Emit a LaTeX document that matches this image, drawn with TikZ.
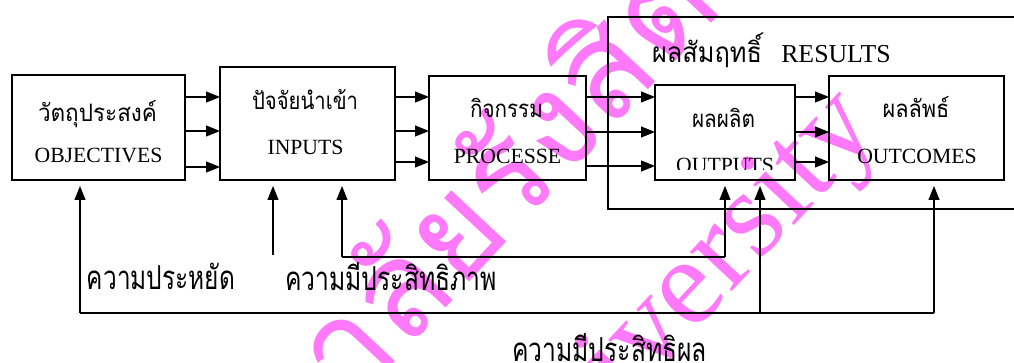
\documentclass[tikz,border=0pt]{standalone}
\usepackage{fontspec}
\setmainfont{Liberation Serif}
\newfontfamily\thai[Script=Thai]{Loma}
\usetikzlibrary{arrows.meta}
\definecolor{wm}{RGB}{255,122,250}
\newcommand{\thw}[3]{\resizebox{#1}{\height}{\fontsize{#2}{#2}\selectfont\thai #3}}
\newcommand{\lat}[1]{\fontsize{#1}{#1}\selectfont}
\begin{document}
\begin{tikzpicture}[x=1pt,y=-1pt,
  box/.style={draw, line width=1.1pt, inner sep=0pt, outer sep=0pt},
  arr/.style={line width=1.1pt, -{Triangle[length=14pt,width=11pt]}},
  ln/.style={line width=1.1pt},
  lbl/.style={anchor=base, inner sep=0pt, outer sep=0pt},
  wmark/.style={text=wm, inner sep=0pt}]
\useasboundingbox (0,0) rectangle (1014,363);
\clip (0,0) rectangle (1014,363);
\fill[white] (0,0) rectangle (1014,363);

% watermark
\node[wmark, anchor=base east, rotate=47] (wmth) at (725,8)
  {\fontsize{135}{135}\selectfont\thai มหาวิทยาลัยรังสิต};
\node[wmark, anchor=base west, rotate=47] (wmen) at (522,517)
  {\fontsize{125}{125}\selectfont University};

% boxes
\node[box, minimum width=422pt, minimum height=192pt] (res) at (819,113) {};
\node[box, minimum width=173pt, minimum height=105pt] (obj) at (98.5,127.5) {};
\node[box, minimum width=175pt, minimum height=113pt] (inp) at (307.5,123.5) {};
\node[box, minimum width=157pt, minimum height=104pt] (proc) at (507.5,128) {};
\node[box, minimum width=140pt, minimum height=95pt] (outp) at (725,132.5) {};
\node[box, minimum width=175pt, minimum height=104pt] (outc) at (916.5,128) {};

% box texts
\node[lbl] (objth) at (97.5,122) {\thw{119pt}{24}{วัตถุประสงค์}};
\node[lbl] (objen) at (98.5,163) {\lat{21.7}OBJECTIVES};
\node[lbl] (inpth) at (305,110) {\thw{106pt}{24}{ปัจจัยนำเข้า}};
\node[lbl] (inpen) at (305.5,155) {\lat{21.7}INPUTS};
\node[lbl] (procth) at (506.5,118) {\thw{73pt}{24}{กิจกรรม}};
\node[lbl] (procen) at (507.5,164) {\lat{21.7}PROCESSE};
\node[lbl] (outpth) at (723.5,128) {\thw{63pt}{24}{ผลผลิต}};
\begin{scope}
  \clip (655,85) rectangle (795,170);
  \node[lbl] (outpen) at (725,173) {\lat{21.7}OUTPUTS};
\end{scope}
\node[lbl] (outcth) at (916,118) {\thw{67pt}{24}{ผลลัพธ์}};
\node[lbl] (outcen) at (917,164) {\lat{21.7}OUTCOMES};
\node[lbl] (resth) at (707,63) {\thw{110pt}{28}{ผลสัมฤทธิ์}};
\node[lbl] (resen) at (836,63) {\lat{25.8}RESULTS};

% horizontal arrows
\foreach \y in {97,131,167} \draw[arr] (obj.east |- 0,\y) -- (inp.west |- 0,\y);
\foreach \y in {97,131,162} \draw[arr] (inp.east |- 0,\y) -- (proc.west |- 0,\y);
\foreach \y in {97,132,166} \draw[arr] (proc.east |- 0,\y) -- (outp.west |- 0,\y);
\foreach \y in {97,132,162} \draw[arr] (outp.east |- 0,\y) -- (outc.west |- 0,\y);

% feedback coordinates
\coordinate (e1) at (80,313);
\coordinate (e2) at (760,313);
\coordinate (e3) at (934,313);
\coordinate (f1) at (342,257);
\coordinate (f2) at (725,257);
\coordinate (c1) at (273,255);

\draw[ln] (e1) -- (e3);
\draw[ln] (f1) -- (f2);
\draw[arr, shorten >=6pt] (e1) -- (e1 |- obj.south);
\draw[arr, shorten >=6pt] (e2) -- (e2 |- outp.south);
\draw[arr, shorten >=6pt] (e3) -- (e3 |- outc.south);
\draw[arr, shorten >=6pt] (f1) -- (f1 |- inp.south);
\draw[arr, shorten >=6pt] (f2) -- (f2 |- outp.south);
\draw[arr, shorten >=6pt] (c1) -- (c1 |- inp.south);

% bottom labels
\node[lbl] (eco) at (161,290) {\thw{148pt}{33}{ความประหยัด}};
\node[lbl] (eff) at (391,290) {\thw{212pt}{33}{ความมีประสิทธิภาพ}};
\node[lbl] (efc) at (609.5,361) {\thw{195pt}{33}{ความมีประสิทธิผล}};
\end{tikzpicture}
\end{document}
